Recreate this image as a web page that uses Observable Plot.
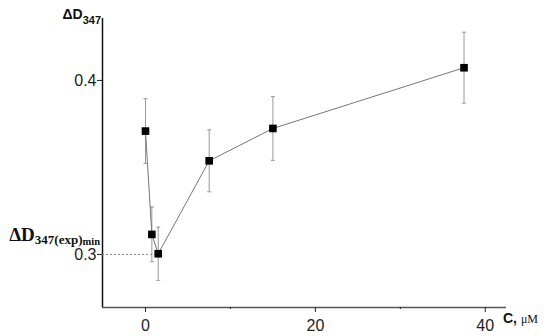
<!DOCTYPE html>
<html><head><meta charset="utf-8">
<script src="https://cdn.jsdelivr.net/npm/d3@7"></script>
<script src="https://cdn.jsdelivr.net/npm/@observablehq/plot@0.6"></script>
<style>body{margin:0;background:#fff}</style>
</head><body><div id="chart"></div>
<script>
const conc = [0, 0.75, 1.5, 7.5, 15, 37.5];
const deltaD = [0.3709, 0.3115, 0.3004, 0.3538, 0.3724, 0.4073];
const errs = [0.0186, 0.0157, 0.0153, 0.0178, 0.0183, 0.0204];
const yTicks = [0.3, 0.4];
const xTicks = [0, 10, 20, 30, 40];
const xLabelled = [0, 20, 40];
const minLevel = 0.3;

const data = conc.map((c, i) => ({c, v: deltaD[i], lo: deltaD[i] - errs[i], hi: deltaD[i] + errs[i]}));
const xDom = [-5.06, 42.5], yDom = [0.2695, 0.4356];
const cap = {draw(ctx, size) { const r = Math.sqrt(size / Math.PI); ctx.moveTo(-r, 0); ctx.lineTo(r, 0); }};

const plot = Plot.plot({
  width: 550, height: 336,
  marginLeft: 102, marginRight: 44, marginTop: 18, marginBottom: 29,
  x: {domain: xDom}, y: {domain: yDom},
  style: {fontFamily: "Liberation Sans, Arial, sans-serif", background: "#fff"},
  marks: [
    Plot.ruleY([yDom[0]], {stroke: "#555", strokeWidth: 1.5}),
    Plot.ruleX([xDom[0]], {stroke: "#111", strokeWidth: 1.5}),
    Plot.axisY({ticks: yTicks, tickFormat: d => d.toFixed(1), tickSize: 5, tickPadding: 1, fontSize: 16, color: "#222", label: null}),
    Plot.axisX({ticks: xTicks.filter(d => xLabelled.includes(d)), tickFormat: d => d, tickSize: 5, fontSize: 16, color: "#222", label: null, tickPadding: 7}),
    Plot.axisX({ticks: xTicks.filter(d => !xLabelled.includes(d)), tickFormat: () => "", tickSize: 2, color: "#222", label: null}),
    Plot.ruleY([minLevel], {x1: xDom[0], x2: conc[2], stroke: "#888", strokeDasharray: "2,2", strokeWidth: 1}),
    Plot.ruleX(data, {x: "c", y1: "lo", y2: "hi", stroke: "#999", strokeWidth: 1}),
    Plot.dot(data, {x: "c", y: "lo", symbol: cap, r: 2, stroke: "#999", strokeWidth: 1}),
    Plot.dot(data, {x: "c", y: "hi", symbol: cap, r: 2, stroke: "#999", strokeWidth: 1}),
    Plot.line(data, {x: "c", y: "v", stroke: "#777", strokeWidth: 1}),
    Plot.dot(data, {x: "c", y: "v", symbol: "square", r: 4.3, fill: "#000", stroke: "none"})
  ]
});

const svg = d3.select(plot);
// y-axis title
const t1 = svg.append("text").attr("x", 101).attr("y", 19).attr("text-anchor", "end")
  .attr("font-family", "Liberation Sans, Arial, sans-serif").attr("font-weight", "bold").attr("font-size", 14).attr("fill", "#111");
t1.append("tspan").text("ΔD");
t1.append("tspan").attr("font-size", 11).attr("dy", 5).text("347");
// min label
const t2 = svg.append("text").attr("x", 100).attr("y", 241).attr("text-anchor", "end")
  .attr("font-family", "Liberation Serif, serif").attr("font-weight", "bold").attr("font-size", 19).attr("fill", "#111");
t2.append("tspan").text("ΔD");
t2.append("tspan").attr("font-size", 13).attr("dy", 3).text("347(exp)");
t2.append("tspan").attr("font-size", 10.5).attr("dy", 1).text("min");
// x-axis title
const t3 = svg.append("text").attr("x", 503).attr("y", 323).attr("text-anchor", "start")
  .attr("font-family", "Liberation Sans, Arial, sans-serif").attr("fill", "#111");
t3.append("tspan").attr("font-weight", "bold").attr("font-size", 14).text("C, ");
t3.append("tspan").attr("font-family", "Liberation Serif, serif").attr("font-size", 12).text("μM");

document.getElementById("chart").append(plot);
</script></body></html>
